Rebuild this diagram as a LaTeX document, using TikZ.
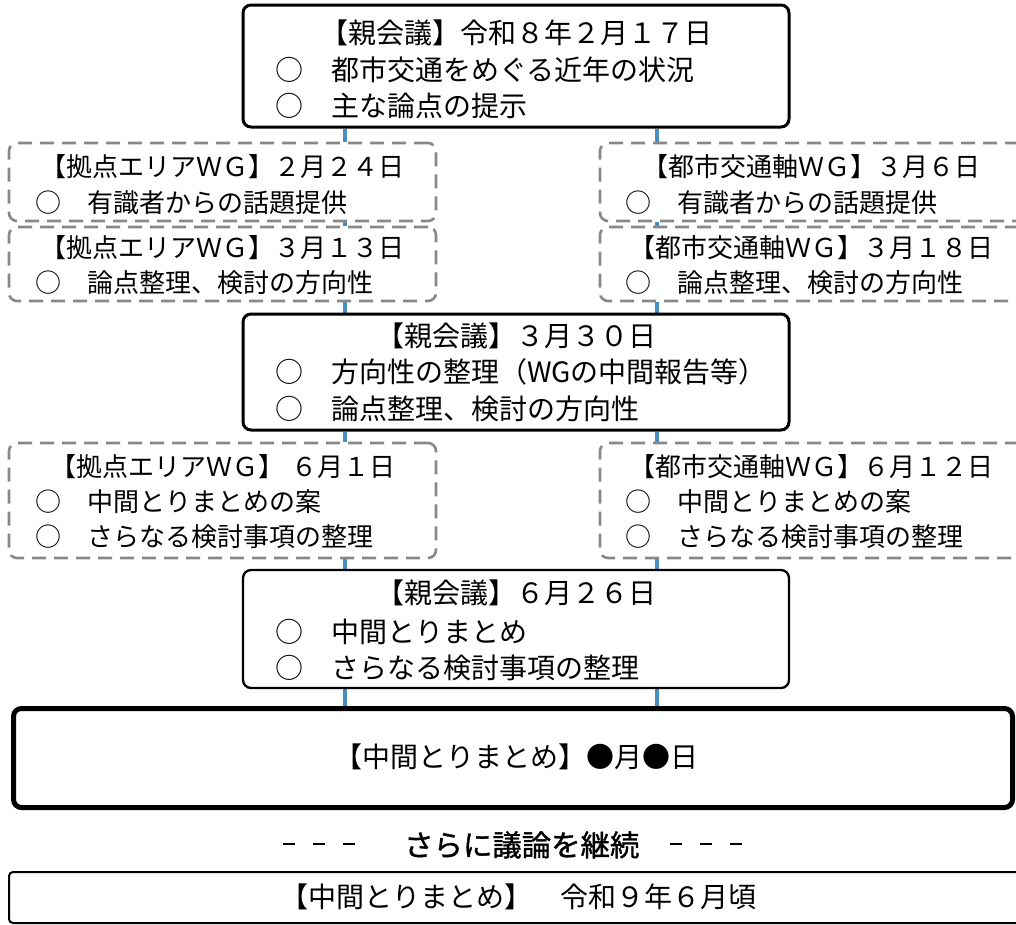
\documentclass[tikz,border=0pt]{standalone}
\usepackage{fontspec}
\setmainfont{Noto Sans CJK JP}
\usetikzlibrary{backgrounds}
\definecolor{linkblue}{RGB}{70,142,196}
\definecolor{dashgray}{RGB}{136,136,136}
\newcommand{\dashmark}{\raisebox{11pt}{\rule{12pt}{2pt}}}
\begin{document}
\begin{tikzpicture}[x=1pt,y=-1pt,
  mainbox/.style={draw=black, line width=3pt, rounded corners=8pt, fill=white, inner sep=0pt},
  wgbox/.style={draw=dashgray, line width=2.6pt, dash pattern=on 14pt off 8pt, rounded corners=8pt, fill=white, inner sep=0pt},
  link/.style={draw=linkblue, line width=4pt},
  bigt/.style={inner sep=0pt, anchor=base, font=\fontsize{28}{34}\selectfont},
  bigl/.style={inner sep=0pt, anchor=base west, font=\fontsize{28}{34}\selectfont},
  smt/.style={inner sep=0pt, anchor=base, font=\fontsize{26}{32}\selectfont},
  sml/.style={inner sep=0pt, anchor=base west, font=\fontsize{26}{32}\selectfont}]
\useasboundingbox (0,0) rectangle (1016,924);
\clip (0,0) rectangle (1016,924);
\coordinate (lx) at (345,0);
\coordinate (rx) at (657,0);
% boxes
\node[mainbox, minimum width=546pt, minimum height=122pt] (top) at (516,66) {};
\node[wgbox, minimum width=427pt, minimum height=78pt] (l1) at (222.5,182) {};
\node[wgbox, minimum width=427pt, minimum height=74pt] (l2) at (222.5,264) {};
\node[wgbox, minimum width=427pt, minimum height=78pt] (r1) at (813.5,182) {};
\node[wgbox, minimum width=427pt, minimum height=74pt] (r2) at (813.5,264) {};
\node[mainbox, minimum width=546pt, minimum height=116pt] (mid) at (516,372) {};
\node[wgbox, minimum width=427pt, minimum height=115pt] (l3) at (222.5,500.5) {};
\node[wgbox, minimum width=427pt, minimum height=115pt] (r3) at (813.5,500.5) {};
\node[mainbox, line width=2.3pt, minimum width=546pt, minimum height=118pt] (m3) at (516,629) {};
\node[mainbox, line width=5pt, minimum width=999pt, minimum height=99pt] (sum) at (513,758) {};
\node[mainbox, line width=2pt, rounded corners=4pt, minimum width=1031pt, minimum height=51pt] (fin) at (524.5,897.5) {};
% connectors (behind boxes)
\begin{scope}[on background layer]
\draw[link] (top.south -| lx) -- (l1.north -| lx);
\draw[link] (l1.south -| lx) -- (l2.north -| lx);
\draw[link] (l2.south -| lx) -- (mid.north -| lx);
\draw[link] (mid.south -| lx) -- (l3.north -| lx);
\draw[link] (l3.south -| lx) -- (m3.north -| lx);
\draw[link] (m3.south -| lx) -- (sum.north -| lx);
\draw[link] (top.south -| rx) -- (r1.north -| rx);
\draw[link] (r1.south -| rx) -- (r2.north -| rx);
\draw[link] (r2.south -| rx) -- (mid.north -| rx);
\draw[link] (mid.south -| rx) -- (r3.north -| rx);
\draw[link] (r3.south -| rx) -- (m3.north -| rx);
\draw[link] (m3.south -| rx) -- (sum.north -| rx);
\end{scope}
% texts: top
\node[bigt] (t1a) at (516,43) {【親会議】令和８年２月１７日};
\node[bigl] (t1b) at (275,80) {○　都市交通をめぐる近年の状況};
\node[bigl] (t1c) at (275,116) {○　主な論点の提示};
% L1, L2
\node[smt] (l1a) at (222.5,176.5) {【拠点エリアＷＧ】２月２４日};
\node[sml] (l1b) at (35,212.5) {○　有識者からの話題提供};
\node[smt] (l2a) at (222.5,257) {【拠点エリアＷＧ】３月１３日};
\node[sml] (l2b) at (35,292.5) {○　論点整理、検討の方向性};
% R1, R2
\node[smt] (r1a) at (811,176.5) {【都市交通軸ＷＧ】３月６日};
\node[sml] (r1b) at (625,212.5) {○　有識者からの話題提供};
\node[smt] (r2a) at (811,257) {【都市交通軸ＷＧ】３月１８日};
\node[sml] (r2b) at (625,292.5) {○　論点整理、検討の方向性};
% mid
\node[bigt] (m2a) at (516,346.5) {【親会議】３月３０日};
\node[bigl] (m2b) at (275,382.5) {○　方向性の整理（WGの中間報告等）};
\node[bigl] (m2c) at (275,419) {○　論点整理、検討の方向性};
% L3, R3
\node[smt] (l3a) at (223,476.7) {【拠点エリアＷＧ】\hspace{8pt}６月１日};
\node[sml] (l3b) at (35,511.7) {○　中間とりまとめの案};
\node[sml] (l3c) at (35,546.7) {○　さらなる検討事項の整理};
\node[smt] (r3a) at (811,476.7) {【都市交通軸ＷＧ】６月１２日};
\node[sml] (r3b) at (625,511.7) {○　中間とりまとめの案};
\node[sml] (r3c) at (625,546.7) {○　さらなる検討事項の整理};
% m3
\node[bigt] (m3a) at (516,603.5) {【親会議】６月２６日};
\node[bigl] (m3b) at (275,642) {○　中間とりまとめ};
\node[bigl] (m3c) at (275,678) {○　さらなる検討事項の整理};
% summary
\node[bigt] (suma) at (516,767.5) {【中間とりまとめ】●月●日};
\node[inner sep=0pt, anchor=base west, font=\fontsize{29.4}{34}\selectfont] (cont) at (283,856)
  {\dashmark\hspace{18pt}\dashmark\hspace{18pt}\dashmark\hspace{49pt}{\addfontfeature{FakeBold=1.2}さらに議論を継続}\hspace{31pt}\dashmark\hspace{18pt}\dashmark\hspace{18pt}\dashmark};
\node[bigt] (fina) at (518,907.5) {【中間とりまとめ】　令和９年６月頃};
\end{tikzpicture}
\end{document}
